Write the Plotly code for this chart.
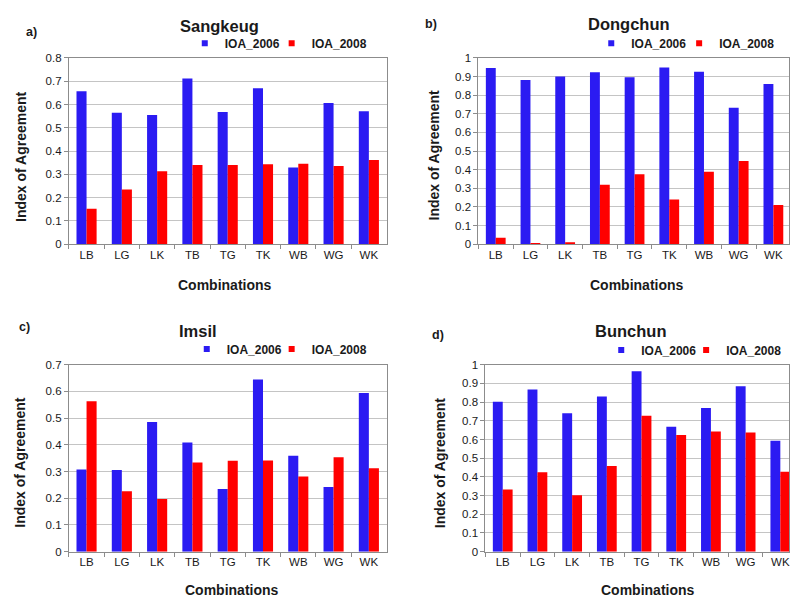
import plotly.graph_objects as go

categories = ["LB", "LG", "LK", "TB", "TG", "TK", "WB", "WG", "WK"]

sangkeug_2006 = [0.657, 0.565, 0.555, 0.712, 0.568, 0.670, 0.329, 0.607, 0.571]
sangkeug_2008 = [0.152, 0.235, 0.313, 0.340, 0.340, 0.343, 0.345, 0.336, 0.362]

dongchun_2006 = [0.946, 0.882, 0.900, 0.923, 0.896, 0.949, 0.926, 0.733, 0.860]
dongchun_2008 = [0.035, 0.006, 0.010, 0.319, 0.375, 0.240, 0.389, 0.446, 0.210]

imsil_2006 = [0.308, 0.306, 0.486, 0.409, 0.235, 0.645, 0.359, 0.242, 0.594]
imsil_2008 = [0.563, 0.226, 0.197, 0.334, 0.340, 0.341, 0.281, 0.354, 0.312]

bunchun_2006 = [0.802, 0.867, 0.740, 0.830, 0.965, 0.668, 0.769, 0.885, 0.594]
bunchun_2008 = [0.332, 0.425, 0.302, 0.458, 0.727, 0.624, 0.643, 0.638, 0.428]

series_names = ["IOA_2006", "IOA_2008"]
panel_titles = ["Sangkeug", "Dongchun", "Imsil", "Bunchun"]
panel_letters = ["a)", "b)", "c)", "d)"]
y_max = [0.8, 1.0, 0.7, 1.0]

W, H = 790, 605
BLUE = "#2B1BF2"
RED = "#FF0000"
FONT = "Liberation Sans, Arial, sans-serif"
TXT = "#1a1a1a"


def px(x):
    return x / W


def py(y):
    return 1 - y / H


# plot areas in pixels: (left, right, top, bottom, x-range max)
areas = [
    (69, 387, 53, 243, 8.5),
    (479, 790, 53, 243, 8.45),
    (69, 387, 366, 556.7, 8.5),
    (486, 790, 366, 556.7, 8.25),
]

data = [
    (sangkeug_2006, sangkeug_2008),
    (dongchun_2006, dongchun_2008),
    (imsil_2006, imsil_2008),
    (bunchun_2006, bunchun_2008),
]

# legend text start positions (px) for each entry and the legend row y
legend_text_x = [(225, 312), (632, 720), (227, 312), (642, 727)]
legend_y = [43, 43, 355, 356]

fig = go.Figure()

layout = dict(
    width=W, height=H, autosize=False,
    margin=dict(l=0, r=0, t=0, b=0, pad=0),
    paper_bgcolor="white", plot_bgcolor="white",
    barmode="group", bargap=0.43, bargroupgap=0,
    font=dict(family=FONT, color=TXT),
    annotations=[],
)

leg_idx = 0
for i, (s06, s08) in enumerate(data):
    xa = "x" if i == 0 else f"x{i+1}"
    ya = "y" if i == 0 else f"y{i+1}"
    fig.add_trace(go.Bar(x=categories, y=s06, name=series_names[0], marker_color=BLUE,
                         marker_line_width=0, xaxis=xa, yaxis=ya, showlegend=False))
    fig.add_trace(go.Bar(x=categories, y=s08, name=series_names[1], marker_color=RED,
                         marker_line_width=0, xaxis=xa, yaxis=ya, showlegend=False))
    # legend entries (one small legend per entry so each can be placed exactly)
    for j, (name, col) in enumerate(zip(series_names, [BLUE, RED])):
        leg_idx += 1
        lk = "legend" if leg_idx == 1 else f"legend{leg_idx}"
        fig.add_trace(go.Scatter(x=[None], y=[None], mode="markers", name=name,
                                 marker=dict(symbol="square", size=6, color=col),
                                 xaxis=xa, yaxis=ya, legend=lk, showlegend=True))
        tx = legend_text_x[i][j]
        layout[lk] = dict(
            orientation="h", x=px(tx - 40), y=py(legend_y[i] - 5),
            xanchor="left", yanchor="middle", xref="paper", yref="paper",
            bgcolor="rgba(0,0,0,0)", borderwidth=0, itemwidth=30,
            font=dict(size=12, family=FONT, color=TXT, weight="bold"),
            itemclick=False, itemdoubleclick=False,
        )

for i in range(4):
    l, r, t, b, xmax = areas[i]
    xk = "xaxis" if i == 0 else f"xaxis{i+1}"
    yk = "yaxis" if i == 0 else f"yaxis{i+1}"
    ya_ref = "y" if i == 0 else f"y{i+1}"
    xa_ref = "x" if i == 0 else f"x{i+1}"
    layout[xk] = dict(
        domain=[px(l), px(r)], anchor=ya_ref, type="category",
        categoryorder="array", categoryarray=categories,
        range=[-0.5, xmax], tickson="boundaries", ticks="outside", ticklen=4,
        tickcolor="#8C8C8C", showline=True, linecolor="#8C8C8C", linewidth=1,
        mirror=True, showgrid=False, tickfont=dict(size=11.5, family=FONT, color=TXT),
        fixedrange=True,
    )
    layout[yk] = dict(
        domain=[py(b), py(t)], anchor=xa_ref, range=[0, y_max[i]], dtick=0.1,
        tick0=0, ticks="outside", ticklen=4, tickcolor="#8C8C8C",
        showline=True, linecolor="#8C8C8C", linewidth=1, mirror=True,
        showgrid=True, gridcolor="#C4C4C4", gridwidth=1, zeroline=False,
        tickfont=dict(size=11.5, family=FONT, color=TXT), fixedrange=True,
    )

title_pos = [(220, 20), (630, 18), (198, 332), (632, 332)]
letter_pos = [(32, 27), (432, 18), (25, 328), (439, 336)]
# top edge of the "Combinations" label boxes
xlabel_top = [(225, 275), (638, 275), (232, 587), (649, 587)]
ylabel_pos = [(21, 153), (435, 152), (20, 465), (440, 466)]

for i in range(4):
    tx, ty = title_pos[i]
    layout["annotations"].append(dict(
        text=f"<b>{panel_titles[i]}</b>", x=px(tx), y=py(ty), xref="paper", yref="paper",
        xanchor="center", yanchor="middle", showarrow=False,
        font=dict(size=16.5, family=FONT, color=TXT)))
    lx, ly = letter_pos[i]
    layout["annotations"].append(dict(
        text=f"<b>{panel_letters[i]}</b>", x=px(lx), y=py(ly), xref="paper", yref="paper",
        xanchor="center", yanchor="middle", showarrow=False,
        font=dict(size=12.5, family=FONT, color=TXT)))
    cx, cy = xlabel_top[i]
    layout["annotations"].append(dict(
        text="<b>Combinations</b>", x=px(cx), y=py(cy), xref="paper", yref="paper",
        xanchor="center", yanchor="top", showarrow=False, borderpad=0,
        font=dict(size=14, family=FONT, color=TXT)))
    vx, vy = ylabel_pos[i]
    layout["annotations"].append(dict(
        text="<b>Index of Agreement</b>", x=px(vx), y=py(vy), xref="paper", yref="paper",
        xanchor="center", yanchor="middle", showarrow=False, textangle=-90,
        font=dict(size=14, family=FONT, color=TXT)))

fig.update_layout(**layout)
fig.write_html(
    "out.html",
    config={"displayModeBar": False},
    post_script="document.body.style.margin='0px';document.body.style.overflow='hidden';",
)
